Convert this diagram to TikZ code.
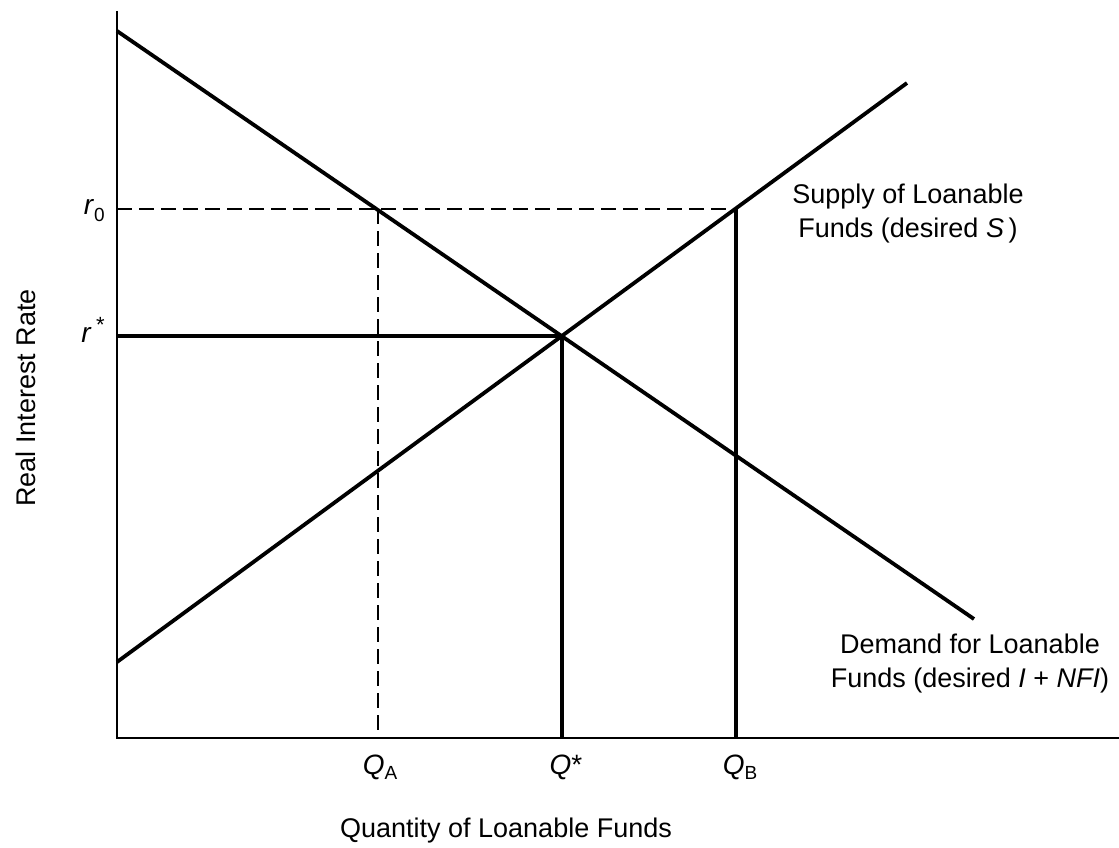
\documentclass[tikz,border=0pt]{standalone}
\usepackage{fontspec}
\setmainfont{Liberation Sans}
\begin{document}
\begin{tikzpicture}[x=1pt,y=-1pt,
  curve/.style={line width=3.8pt},
  axisline/.style={line width=2.8pt},
  guide/.style={line width=3.2pt},
  dashguide/.style={line width=2.8pt, dash pattern=on 15pt off 7pt},
  lbl/.style={font=\fontsize{27}{34}\selectfont, inner sep=0pt},
  tick/.style={font=\fontsize{28}{34}\selectfont, inner sep=0pt},
]
\useasboundingbox (0,0) rectangle (1119,848);
% key points
\coordinate (O) at (117,738);
\coordinate (Ytop) at (117,11);
\coordinate (Xend) at (1119,738);
\coordinate (D1) at (117,31);
\coordinate (D2) at (974,619);
\coordinate (S1) at (117,662);
\coordinate (S2) at (907,83);
\coordinate (E) at (562,336);
\coordinate (A) at (378,209);
\coordinate (B) at (736,209);
\coordinate (R0) at (117,209);
\coordinate (Rs) at (117,336);
\coordinate (QA) at (378,738);
\coordinate (Qs) at (562,738);
\coordinate (QB) at (736,738);
% axes
\draw[axisline] (Ytop) -- (O) -- (Xend);
% guides
\draw[dashguide] (R0) -- (B);
\draw[dashguide] (A) -- (QA);
\draw[guide] (Rs) -- (E);
\draw[guide] (E) -- (Qs);
\draw[guide] (B) -- (QB);
% curves
\draw[curve] (D1) -- (D2);
\draw[curve] (S1) -- (S2);
% labels
\node[tick, anchor=base east] (r0lab) at (105,214) {\textit{r}\raisebox{-0.25em}{\fontsize{19}{20}\selectfont 0}};
\node[tick, anchor=base east] (rslab) at (105,342) {\textit{r}\,\raisebox{0.35em}{\fontsize{22}{22}\selectfont *}};
\node[tick, anchor=base] (qalab) at (380,774) {\textit{Q}\raisebox{-0.2em}{\fontsize{19}{20}\selectfont A}};
\node[tick, anchor=base] (qslab) at (566,774) {\textit{Q}*};
\node[tick, anchor=base] (qblab) at (740,774) {\textit{Q}\raisebox{-0.2em}{\fontsize{19}{20}\selectfont B}};
\node[lbl, anchor=base] (xlab) at (506,837) {Quantity of Loanable Funds};
\node[lbl, anchor=base, rotate=90] (ylab) at (35,398) {Real Interest Rate};
\node[lbl, align=center] (slab) at (908,214) {Supply of Loanable\\Funds (desired \textit{S}\,)};
\node[lbl, align=center] (dlab) at (970,664) {Demand for Loanable\\Funds (desired \textit{I} + \textit{NFI})};
\end{tikzpicture}
\end{document}
